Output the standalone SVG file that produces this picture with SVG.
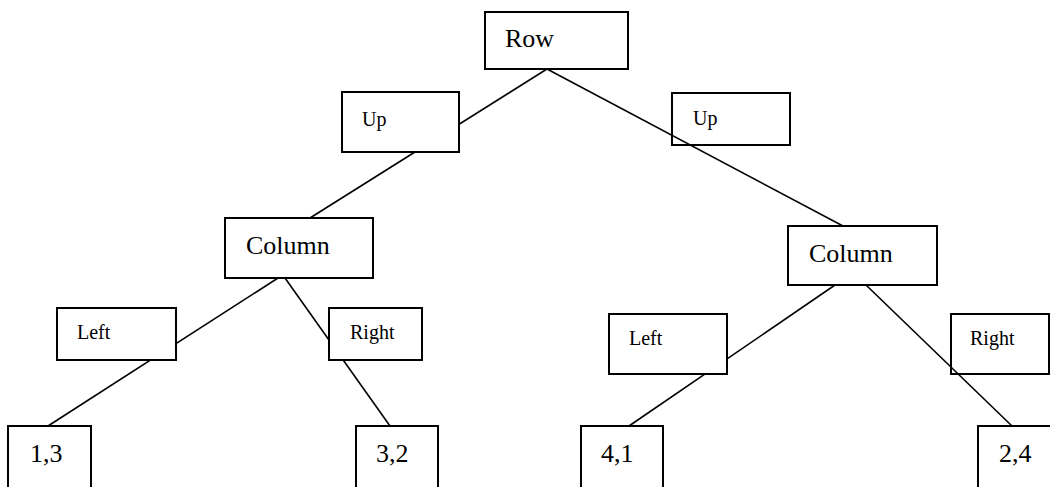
<svg xmlns="http://www.w3.org/2000/svg" width="1050" height="487" viewBox="0 0 1050 487">
<style>
.box{fill:#fff;stroke:#000;stroke-width:2}
.big{font-family:"Liberation Serif","Times New Roman",serif;font-size:26px;fill:#000}
.small{font-family:"Liberation Serif","Times New Roman",serif;font-size:20px;fill:#000}
.conn line{stroke:#000;stroke-width:1.6}
</style>
<rect width="1050" height="487" fill="#fff"/>
<g id="up-right"><rect class="box" x="672" y="93" width="118" height="52"/><text class="small" x="693" y="125">Up</text></g>
<g id="right-right"><rect class="box" x="951" y="314" width="98" height="60"/><text class="small" x="970" y="345">Right</text></g>
<g id="connectors" class="conn">
<line x1="547" y1="69" x2="310" y2="218"/>
<line x1="547" y1="69" x2="843" y2="226"/>
<line x1="278" y1="278" x2="48" y2="426"/>
<line x1="285" y1="278" x2="390" y2="426"/>
<line x1="835" y1="285" x2="629" y2="426"/>
<line x1="866" y1="285" x2="1012" y2="426"/>
</g>
<g id="up-left"><rect class="box" x="342" y="92" width="117" height="60"/><text class="small" x="362" y="126">Up</text></g>
<g id="left-left"><rect class="box" x="57" y="308" width="119" height="52"/><text class="small" x="77" y="339">Left</text></g>
<g id="right-left"><rect class="box" x="329" y="308" width="93" height="52"/><text class="small" x="350" y="339">Right</text></g>
<g id="left-right"><rect class="box" x="609" y="314" width="118" height="60"/><text class="small" x="629" y="345">Left</text></g>
<g id="row"><rect class="box" x="485" y="12" width="143" height="57"/><text class="big" x="505" y="47">Row</text></g>
<g id="column-left"><rect class="box" x="225" y="218" width="148" height="60"/><text class="big" x="246" y="254">Column</text></g>
<g id="column-right"><rect class="box" x="788" y="226" width="149" height="59"/><text class="big" x="809" y="262">Column</text></g>
<g id="leaf-13"><rect class="box" x="8" y="426" width="83" height="80"/><text class="big" x="30" y="462">1,3</text></g>
<g id="leaf-32"><rect class="box" x="356" y="426" width="82" height="80"/><text class="big" x="376" y="462">3,2</text></g>
<g id="leaf-41"><rect class="box" x="581" y="426" width="82" height="80"/><text class="big" x="601" y="462">4,1</text></g>
<g id="leaf-24"><rect class="box" x="978" y="426" width="90" height="80"/><text class="big" x="999" y="462">2,4</text></g>
</svg>
